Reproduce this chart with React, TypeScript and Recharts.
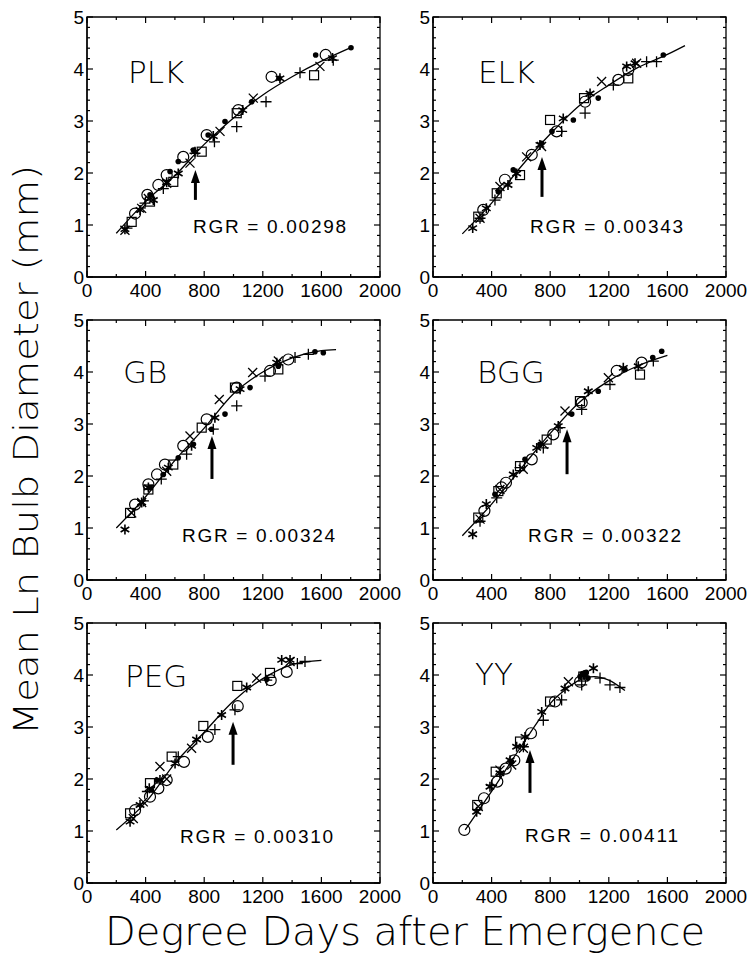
import React from 'react';
import { ComposedChart, Scatter, Line, XAxis, YAxis, ReferenceArea, ReferenceDot } from 'recharts';

type Pt = [number, number];

const X_TICKS = [0, 200, 400, 600, 800, 1000, 1200, 1400, 1600, 1800, 2000];
const Y_TICKS = [0, 0.2, 0.4, 0.6, 0.8, 1, 1.2, 1.4, 1.6, 1.8, 2, 2.2, 2.4, 2.6, 2.8, 3, 3.2, 3.4, 3.6, 3.8, 4, 4.2, 4.4, 4.6, 4.8, 5];

const X_TITLE = 'Degree Days after Emergence';
const Y_TITLE = 'Mean Ln Bulb Diameter (mm)';

// PLK
const plkCurve: Pt[] = [[200, 0.84], [400, 1.45], [600, 1.95], [800, 2.55], [1000, 3.06], [1200, 3.5], [1400, 3.85], [1600, 4.15], [1800, 4.41]];
const plkCircle: Pt[] = [[328, 1.22], [412, 1.58], [487, 1.77], [544, 1.96], [657, 2.31], [817, 2.73], [1033, 3.21], [1260, 3.85], [1629, 4.27]];
const plkSquare: Pt[] = [[305, 1.06], [430, 1.45], [589, 1.83], [783, 2.41], [1022, 3.15], [1550, 3.88]];
const plkCross: Pt[] = [[259, 0.9], [373, 1.32], [419, 1.51], [544, 1.8], [703, 2.19], [908, 2.8], [1135, 3.44], [1590, 4.05]];
const plkPlus: Pt[] = [[273, 0.94], [396, 1.42], [521, 1.7], [737, 2.38], [870, 2.6], [1022, 2.89], [1222, 3.37], [1454, 3.93], [1681, 4.17]];
const plkStar: Pt[] = [[259, 0.92], [362, 1.29], [453, 1.48], [544, 1.82], [623, 1.99], [737, 2.41], [862, 2.71], [1063, 3.21], [1317, 3.82], [1676, 4.21]];
const plkDot: Pt[] = [[430, 1.58], [567, 2.03], [623, 2.22], [726, 2.44], [827, 2.73], [942, 2.99], [1124, 3.37], [1313, 3.82], [1561, 4.27], [1802, 4.41]];

// ELK
const elkCurve: Pt[] = [[200, 0.83], [400, 1.42], [600, 2.12], [800, 2.75], [1000, 3.3], [1200, 3.69], [1400, 4.03], [1600, 4.28], [1720, 4.45]];
const elkCircle: Pt[] = [[343, 1.29], [491, 1.87], [674, 2.35], [844, 2.8], [1038, 3.37], [1265, 3.79], [1333, 3.98]];
const elkSquare: Pt[] = [[309, 1.16], [435, 1.61], [594, 1.96], [799, 3.02], [1031, 3.44], [1333, 3.82]];
const elkCross: Pt[] = [[321, 1.13], [457, 1.74], [639, 2.31], [741, 2.51], [1151, 3.76], [1390, 4.11]];
const elkPlus: Pt[] = [[321, 1.13], [423, 1.48], [878, 2.8], [1038, 3.15], [1231, 3.69], [1458, 4.14], [1526, 4.14]];
const elkStar: Pt[] = [[271, 0.94], [364, 1.32], [512, 1.77], [571, 1.99], [730, 2.54], [889, 3.05], [1072, 3.53], [1322, 4.05], [1379, 4.11]];
const elkDot: Pt[] = [[446, 1.64], [548, 2.06], [741, 2.57], [812, 2.8], [958, 3.02], [1128, 3.44], [1572, 4.27]];

// GB
const gbCurve: Pt[] = [[200, 1.0], [400, 1.6], [600, 2.3], [800, 2.92], [1000, 3.58], [1200, 4.0], [1400, 4.27], [1600, 4.41], [1700, 4.43]];
const gbCircle: Pt[] = [[328, 1.45], [419, 1.84], [478, 2.03], [532, 2.22], [657, 2.58], [817, 3.09], [1022, 3.7], [1249, 4.02], [1374, 4.24]];
const gbSquare: Pt[] = [[294, 1.29], [419, 1.74], [589, 2.22], [783, 2.93], [1010, 3.7], [1306, 4.05]];
const gbCross: Pt[] = [[305, 1.29], [373, 1.49], [544, 2.09], [703, 2.77], [903, 3.47], [1131, 3.99], [1306, 4.21]];
const gbPlus: Pt[] = [[385, 1.52], [507, 1.94], [680, 2.42], [862, 2.9], [1022, 3.35], [1215, 3.92], [1420, 4.28], [1511, 4.34]];
const gbStar: Pt[] = [[259, 0.97], [373, 1.49], [419, 1.78], [555, 2.16], [714, 2.58], [873, 3.12], [1045, 3.67], [1295, 4.18]];
const gbDot: Pt[] = [[430, 1.78], [521, 2.03], [623, 2.35], [726, 2.61], [850, 2.9], [942, 3.19], [1113, 3.7], [1306, 4.11], [1556, 4.39], [1613, 4.37]];

// BGG
const bggCurve: Pt[] = [[200, 0.85], [400, 1.46], [600, 2.14], [800, 2.82], [1000, 3.42], [1200, 3.83], [1400, 4.12], [1600, 4.32]];
const bggCircle: Pt[] = [[351, 1.33], [468, 1.78], [498, 1.87], [674, 2.32], [821, 2.8], [1015, 3.41], [1254, 4.02], [1424, 4.18]];
const bggSquare: Pt[] = [[309, 1.2], [446, 1.71], [594, 2.19], [776, 2.7], [1003, 3.44], [1413, 3.95]];
const bggCross: Pt[] = [[321, 1.17], [457, 1.74], [616, 2.13], [753, 2.61], [901, 3.25], [1197, 3.89]];
const bggPlus: Pt[] = [[321, 1.13], [435, 1.58], [594, 2.16], [753, 2.54], [867, 2.93], [1015, 3.28], [1208, 3.76], [1504, 4.21]];
const bggStar: Pt[] = [[271, 0.88], [364, 1.46], [548, 2.03], [708, 2.54], [855, 2.96], [1060, 3.63], [1299, 4.08], [1401, 4.11]];
const bggDot: Pt[] = [[423, 1.65], [628, 2.32], [730, 2.61], [947, 3.19], [1128, 3.63], [1310, 4.05], [1500, 4.28], [1561, 4.4]];

// PEG
const pegCurve: Pt[] = [[200, 1.02], [400, 1.55], [600, 2.3], [800, 2.9], [1000, 3.5], [1200, 3.93], [1400, 4.2], [1600, 4.28]];
const pegCircle: Pt[] = [[328, 1.4], [430, 1.66], [487, 1.82], [544, 1.98], [662, 2.33], [825, 2.81], [1029, 3.4], [1254, 3.9], [1363, 4.06]];
const pegSquare: Pt[] = [[294, 1.34], [430, 1.92], [578, 2.43], [794, 3.02], [1026, 3.79], [1249, 4.04]];
const pegCross: Pt[] = [[316, 1.24], [384, 1.56], [498, 2.24], [544, 2.0], [714, 2.59], [1158, 3.94], [1386, 4.26]];
const pegPlus: Pt[] = [[412, 1.76], [623, 2.43], [873, 2.95], [1010, 3.33], [1227, 3.9], [1436, 4.22], [1488, 4.26]];
const pegStar: Pt[] = [[294, 1.18], [362, 1.5], [425, 1.82], [498, 1.98], [601, 2.3], [748, 2.76], [919, 3.23], [1090, 3.76], [1329, 4.29], [1386, 4.29]];
const pegDot: Pt[] = [[439, 1.79], [476, 1.98], [1227, 3.92]];

// YY
const yyCurve: Pt[] = [[220, 1.02], [400, 1.76], [600, 2.62], [700, 3.04], [800, 3.45], [900, 3.71], [1000, 3.9], [1100, 3.97], [1200, 3.9], [1310, 3.7]];
const yyCircle: Pt[] = [[214, 1.02], [348, 1.63], [439, 1.95], [496, 2.2], [555, 2.36], [669, 2.88], [833, 3.49], [1004, 3.87]];
const yySquare: Pt[] = [[302, 1.5], [428, 2.14], [594, 2.72], [799, 3.49], [1026, 3.97]];
const yyCross: Pt[] = [[309, 1.47], [457, 2.17], [537, 2.27], [617, 2.59], [924, 3.87]];
const yyPlus: Pt[] = [[400, 1.88], [617, 2.62], [753, 3.13], [878, 3.52], [1015, 3.81], [1140, 3.94], [1208, 3.81], [1276, 3.76]];
const yyStar: Pt[] = [[298, 1.37], [389, 1.85], [457, 2.11], [526, 2.36], [571, 2.62], [628, 2.81], [742, 3.29], [901, 3.74], [1031, 4.0], [1095, 4.13]];
const yyDot: Pt[] = [[537, 2.33], [1004, 3.97], [1022, 4.03], [1036, 4.0], [1046, 4.05], [1058, 3.94]];

const PANELS = [
  { name: 'PLK', rgr: '0.00298', curve: plkCurve, circle: plkCircle, square: plkSquare, cross: plkCross, plus: plkPlus, star: plkStar, dot: plkDot, arrow: [740, 2.06] },
  { name: 'ELK', rgr: '0.00343', curve: elkCurve, circle: elkCircle, square: elkSquare, cross: elkCross, plus: elkPlus, star: elkStar, dot: elkDot, arrow: [744, 2.31] },
  { name: 'GB', rgr: '0.00324', curve: gbCurve, circle: gbCircle, square: gbSquare, cross: gbCross, plus: gbPlus, star: gbStar, dot: gbDot, arrow: [853, 2.77] },
  { name: 'BGG', rgr: '0.00322', curve: bggCurve, circle: bggCircle, square: bggSquare, cross: bggCross, plus: bggPlus, star: bggStar, dot: bggDot, arrow: [915, 2.9] },
  { name: 'PEG', rgr: '0.00310', curve: pegCurve, circle: pegCircle, square: pegSquare, cross: pegCross, plus: pegPlus, star: pegStar, dot: pegDot, arrow: [997, 3.1] },
  { name: 'YY', rgr: '0.00411', curve: yyCurve, circle: yyCircle, square: yySquare, cross: yyCross, plus: yyPlus, star: yyStar, dot: yyDot, arrow: [662, 2.56] },
];

// plot box positions on the page, and label offsets inside each box
const LAYOUT = [
  { left: 87, top: 17, name: [41, 66], rgr: [106, 216], arrowLen: 30 },
  { left: 433, top: 17, name: [45, 66], rgr: [97, 216], arrowLen: 40 },
  { left: 87, top: 320, name: [36, 63], rgr: [95, 222], arrowLen: 43 },
  { left: 433, top: 320, name: [44, 63], rgr: [95, 222], arrowLen: 45 },
  { left: 87, top: 623, name: [38, 64], rgr: [93, 220], arrowLen: 43 },
  { left: 433, top: 623, name: [42, 62], rgr: [92, 219], arrowLen: 43 },
];

const PW = 293;
const PH = 260;
const K = '#000';
const TICK_FONT = '"Liberation Sans", Arial, sans-serif';
const THIN_FONT = '"DejaVu Sans", sans-serif';

const toXY = (pts: Pt[]) => pts.map(([x, y]) => ({ x, y }));

function XTick(props: any) {
  const { x, y, payload } = props;
  const v = payload.value;
  const major = v % 400 === 0;
  const len = major ? 6 : 3;
  return (
    <g>
      <line x1={x} x2={x} y1={y} y2={y - len} stroke={K} strokeWidth={1.2} />
      <line x1={x} x2={x} y1={y - PH} y2={y - PH + len} stroke={K} strokeWidth={1.2} />
      {major && (
        <text x={x} y={y + 20} textAnchor="middle" fontSize={19} fontFamily={TICK_FONT} fill={K}>
          {v}
        </text>
      )}
    </g>
  );
}

function YTick(props: any) {
  const { x, y, payload } = props;
  const v = payload.value;
  const major = Number.isInteger(v);
  const len = major ? 6 : 3;
  return (
    <g>
      <line x1={x} x2={x + len} y1={y} y2={y} stroke={K} strokeWidth={1.2} />
      <line x1={x + PW} x2={x + PW - len} y1={y} y2={y} stroke={K} strokeWidth={1.2} />
      {major && (
        <text x={x - 3} y={y + 7} textAnchor="end" fontSize={19} fontFamily={TICK_FONT} fill={K}>
          {v}
        </text>
      )}
    </g>
  );
}

const OpenCircle = (p: any) => <circle cx={p.cx} cy={p.cy} r={5.5} fill="none" stroke={K} strokeWidth={1.2} />;
const OpenSquare = (p: any) => <rect x={p.cx - 4.5} y={p.cy - 4.5} width={9} height={9} fill="none" stroke={K} strokeWidth={1.2} />;
const CrossMark = (p: any) => (
  <path d={`M${p.cx - 4.5},${p.cy - 4.5}L${p.cx + 4.5},${p.cy + 4.5}M${p.cx - 4.5},${p.cy + 4.5}L${p.cx + 4.5},${p.cy - 4.5}`} stroke={K} strokeWidth={1.3} />
);
const PlusMark = (p: any) => (
  <path d={`M${p.cx - 5.5},${p.cy}L${p.cx + 5.5},${p.cy}M${p.cx},${p.cy - 5.5}L${p.cx},${p.cy + 5.5}`} stroke={K} strokeWidth={1.3} />
);
const StarMark = (p: any) => {
  const r = 5;
  const dx = r * 0.866;
  const dy = r * 0.5;
  return (
    <path
      d={`M${p.cx},${p.cy - r}L${p.cx},${p.cy + r}M${p.cx - dx},${p.cy - dy}L${p.cx + dx},${p.cy + dy}M${p.cx - dx},${p.cy + dy}L${p.cx + dx},${p.cy - dy}`}
      stroke={K}
      strokeWidth={1.6}
    />
  );
};
const DotMark = (p: any) => <circle cx={p.cx} cy={p.cy} r={2.8} fill={K} />;

function Panel({ p, l }: { p: (typeof PANELS)[number]; l: (typeof LAYOUT)[number] }) {
  const arrowShape = (s: any) => (
    <g>
      <line x1={s.cx} x2={s.cx} y1={s.cy + 10} y2={s.cy + l.arrowLen} stroke={K} strokeWidth={3} />
      <path d={`M${s.cx},${s.cy}L${s.cx - 4.5},${s.cy + 13}L${s.cx + 4.5},${s.cy + 13}Z`} fill={K} />
    </g>
  );
  return (
    <div style={{ position: 'absolute', left: l.left - 45, top: l.top - 10 }}>
      <ComposedChart width={45 + PW + 25} height={10 + PH + 30} margin={{ top: 10, right: 25, left: 0, bottom: 0 }}>
        <XAxis
          type="number"
          dataKey="x"
          domain={[0, 2000]}
          ticks={X_TICKS}
          interval={0}
          height={30}
          tickSize={0}
          tickMargin={0}
          allowDataOverflow
          axisLine={{ stroke: K, strokeWidth: 1.3 }}
          tick={(t: any) => <XTick {...t} />}
        />
        <YAxis
          type="number"
          dataKey="y"
          domain={[0, 5]}
          ticks={Y_TICKS}
          interval={0}
          width={45}
          tickSize={0}
          tickMargin={0}
          allowDataOverflow
          axisLine={{ stroke: K, strokeWidth: 1.3 }}
          tick={(t: any) => <YTick {...t} />}
        />
        <ReferenceArea x1={0} x2={2000} y1={0} y2={5} fill="none" fillOpacity={0} stroke={K} strokeWidth={1.3} />
        <Line data={toXY(p.curve)} dataKey="y" type="monotone" dot={false} activeDot={false} stroke={K} strokeWidth={1.3} isAnimationActive={false} />
        <Scatter data={toXY(p.circle)} shape={OpenCircle} isAnimationActive={false} />
        <Scatter data={toXY(p.square)} shape={OpenSquare} isAnimationActive={false} />
        <Scatter data={toXY(p.cross)} shape={CrossMark} isAnimationActive={false} />
        <Scatter data={toXY(p.plus)} shape={PlusMark} isAnimationActive={false} />
        <Scatter data={toXY(p.star)} shape={StarMark} isAnimationActive={false} />
        <Scatter data={toXY(p.dot)} shape={DotMark} isAnimationActive={false} />
        <ReferenceDot x={p.arrow[0]} y={p.arrow[1]} r={0} shape={arrowShape} />
      </ComposedChart>
    </div>
  );
}

export default function App() {
  return (
    <div style={{ position: 'absolute', left: 0, top: 0, width: 751, height: 955, background: '#fff', overflow: 'hidden' }}>
      {PANELS.map((p, i) => (
        <Panel key={p.name} p={p} l={LAYOUT[i]} />
      ))}
      <svg width={751} height={955} style={{ position: 'absolute', left: 0, top: 0, pointerEvents: 'none' }}>
        {PANELS.map((p, i) => {
          const l = LAYOUT[i];
          return (
            <g key={p.name}>
              <text x={l.left + l.name[0]} y={l.top + l.name[1]} fontSize={31} fontFamily={THIN_FONT} fontWeight={200} fill={K}>
                {p.name}
              </text>
              <text
                x={l.left + l.rgr[0]}
                y={l.top + l.rgr[1]}
                fontSize={19}
                fontFamily={TICK_FONT}
                fill={K}
                textLength={153}
                lengthAdjust="spacing"
              >
                {`RGR = ${p.rgr}`}
              </text>
            </g>
          );
        })}
        <text x={405} y={945} textAnchor="middle" fontSize={39} fontFamily={THIN_FONT} fontWeight={200} fill={K} textLength={600} lengthAdjust="spacingAndGlyphs">
          {X_TITLE}
        </text>
        <text
          transform="translate(38,450) rotate(-90)"
          x={0}
          y={0}
          textAnchor="middle"
          fontSize={34}
          fontFamily={THIN_FONT}
          fontWeight={200}
          fill={K}
          textLength={570}
          lengthAdjust="spacingAndGlyphs"
        >
          {Y_TITLE}
        </text>
      </svg>
    </div>
  );
}
